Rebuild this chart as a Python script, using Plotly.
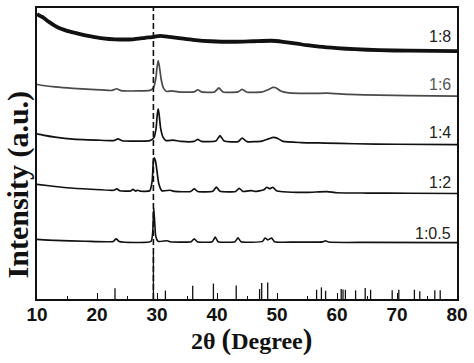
import plotly.graph_objects as go

# ---------------- data (2theta in degrees, intensity in stacked a.u.) ----------------
r18_x = [10, 10.5, 11, 12, 13, 14, 15, 17, 19, 21, 23, 26, 28, 29.5, 30.5, 32, 34, 36, 39, 43,
         46, 49, 51, 53, 55, 57, 60, 63, 67, 72, 80]
r18_y = [287, 285, 283.5, 279, 275, 272, 270, 267, 264.5, 262.5, 261.5, 261.5, 263, 264, 265,
         264, 262.5, 261, 259.5, 259, 259.5, 260, 259, 257.5, 255.5, 254, 252.5, 251.5, 250.5,
         250, 249.5]

r16_x = [10, 11, 13, 16, 19, 22.5, 23.3, 24, 27, 28.8, 29.4, 29.8, 30.0, 30.2, 30.4, 30.7, 31.1,
         31.6, 32.5, 33.5, 36.2, 36.8, 37.4, 39.6, 40.3, 41, 43.5, 44.2, 45, 47.5, 48.6, 49.3,
         49.8, 50.6, 52, 56, 58.3, 62, 67, 72, 80]
r16_y = [216, 215, 213.5, 212, 211, 210, 211.7, 209.8, 209.5, 210, 212.5, 222, 233, 240, 234,
         221, 212, 209, 209.5, 208.5, 208.5, 210.7, 208.5, 208.5, 212.5, 208.5, 208.5, 211,
         208.2, 208.5, 211, 213, 212.7, 209.5, 207.5, 207, 207.2, 206, 205.2, 204.7, 204.3]

r14_x = [10, 11, 13, 16, 20, 22.8, 23.5, 24.2, 27, 28.8, 29.5, 29.85, 30.05, 30.2, 30.35, 30.6,
         31, 31.5, 32.7, 34, 36.2, 36.8, 37.4, 39.8, 40.5, 41.2, 43.5, 44.2, 45, 47.5, 48.7,
         49.4, 50, 51, 54, 58, 63, 70, 80]
r14_y = [166.3, 165, 163, 161, 160, 159.5, 161.3, 159.3, 159, 159.5, 162.5, 172, 186, 191.5,
         186, 172, 163, 159.5, 160, 158.7, 158.7, 160.7, 158.7, 159, 164.5, 159, 158.5, 162,
         158.5, 159, 161.5, 162.7, 162, 158.7, 157.5, 157, 156.3, 155.8, 155.5]

r12_x = [10, 12, 15, 19, 22.8, 23.3, 23.8, 25.6, 26.0, 26.4, 26.8, 27.3, 28.8, 29.2, 29.4,
         29.55, 29.75, 29.95, 30.3, 30.8, 32.2, 33, 35.6, 36.2, 36.8, 39.3, 39.9, 40.5, 43.1,
         43.7, 44.3, 45.8, 46.3, 47.8, 48.3, 48.8, 49.3, 49.9, 51, 55, 58.3, 60, 65, 72, 80]
r12_y = [115.5, 114, 112, 110.5, 109.5, 111, 109, 108.7, 110.5, 108.7, 109.5, 108.5, 109, 119,
         139, 142, 139, 131, 116, 109, 109.5, 108.3, 108.3, 111, 108.3, 108.5, 112.7, 108.5,
         108.3, 111.5, 108.3, 109.2, 108.3, 110, 112.5, 111, 112.5, 109, 108, 107.3, 108.2,
         107, 106.7, 106.5, 106.2]

r105_x = [10, 13, 18, 22.7, 23.2, 23.7, 29.0, 29.3, 29.45, 29.6, 29.8, 30.2, 31.7, 32.2, 35.7,
          36.2, 36.7, 39.2, 39.7, 40.2, 43, 43.5, 44, 47.6, 48.0, 48.5, 49.1, 49.6, 53, 57.6,
          58.1, 58.6, 65, 80]
r105_y = [60, 59, 58.2, 58, 60.7, 58, 58, 69, 92, 79, 63, 58, 58.7, 57.7, 57.7, 60.7, 57.7,
          57.7, 62.3, 57.7, 57.7, 61.7, 57.7, 58, 61.5, 59.5, 61.5, 57.7, 57.3, 57.5, 58.7,
          57.3, 57, 56.8]

# reference (standard) pattern: peak positions and stick heights
ref_pos = [23.0, 29.4, 31.4, 35.95, 39.4, 43.2, 47.1, 47.45, 48.45, 56.6, 57.4, 58.1, 60.7,
           61.0, 61.4, 63.1, 64.7, 65.6, 69.2, 70.3, 72.9, 73.8, 76.3, 77.2]
ref_h = [10.7, 45.7, 8.5, 13.3, 15.5, 13.5, 10, 16, 16.5, 9.3, 11.7, 8.3, 10, 9.5, 9.3, 8.7,
         11, 9.3, 8.7, 9.3, 9.3, 7.7, 8.7, 8.7]
main_peak = 29.4

labels = ["1:8", "1:6", "1:4", "1:2", "1:0.5"]
label_y = [264, 215.7, 167.3, 117.3, 66]
x_ticks = [10, 20, 30, 40, 50, 60, 70, 80]

# ---------------- figure ----------------
fig = go.Figure()

series = [(r18_x, r18_y, "#111111", 3.8),
          (r16_x, r16_y, "#4a4a4a", 1.7),
          (r14_x, r14_y, "#111111", 1.7),
          (r12_x, r12_y, "#111111", 1.7),
          (r105_x, r105_y, "#111111", 1.6)]
for (xs, ys, col, w), name in zip(series, labels):
    fig.add_trace(go.Scatter(x=xs, y=ys, mode="lines", name=name,
                             line=dict(color=col, width=w, shape="spline", smoothing=0.5),
                             hoverinfo="skip", showlegend=False))

sx, sy = [], []
for p, h in zip(ref_pos, ref_h):
    sx += [p, p, None]
    sy += [0, h, None]
fig.add_trace(go.Scatter(x=sx, y=sy, mode="lines", line=dict(color="#111111", width=1.3),
                         hoverinfo="skip", showlegend=False))

fig.add_shape(type="line", xref="x", yref="paper", x0=main_peak, x1=main_peak, y0=0, y1=1,
              line=dict(color="#111111", width=1.6, dash="6px,3px"))

for t, yv, col in zip(labels, label_y, ["#222222", "#555555", "#222222", "#222222", "#222222"]):
    fig.add_annotation(x=79.33, y=yv, xref="x", yref="y", text=t, showarrow=False,
                       xanchor="right", yanchor="middle",
                       font=dict(family="Liberation Sans, Arial", size=16, color=col))

fig.add_annotation(xref="paper", yref="paper", x=-0.045, y=0.394, text="Intensity (a.u.)",
                   textangle=-90, showarrow=False, xanchor="center", yanchor="middle",
                   font=dict(family="Liberation Serif, Times New Roman", size=30,
                             color="#111111", weight="bold"))
fig.add_annotation(xref="paper", yref="paper", x=0.51, y=-0.14,
                   text='2θ <span style="font-size:29px">(</span>Degree<span style="font-size:29px">)</span>',
                   showarrow=False, xanchor="center", yanchor="middle",
                   font=dict(family="Liberation Serif, Times New Roman", size=24,
                             color="#111111", weight="bold"))

fig.update_layout(
    width=474, height=363,
    margin=dict(l=37, r=17, t=6, b=64),
    paper_bgcolor="white", plot_bgcolor="white",
    xaxis=dict(range=[10, 80], tickvals=x_ticks, ticktext=[str(v) for v in x_ticks],
               ticks="inside", ticklen=6, tickwidth=1.3, tickcolor="#111111",
               ticklabelstandoff=-3,
               minor=dict(dtick=5, ticks="inside", ticklen=3, tickwidth=1.2, tickcolor="#111111"),
               showline=True, linecolor="#111111", linewidth=1.5, mirror=True,
               showgrid=False, zeroline=False,
               tickfont=dict(family="Liberation Sans, Arial", size=19, color="#111111",
                             weight="bold")),
    yaxis=dict(range=[0, 293], showticklabels=False, ticks="",
               showline=True, linecolor="#111111", linewidth=1.5, mirror=True,
               showgrid=False, zeroline=False),
)

fig.write_html("out.html", config={"displayModeBar": False},
               post_script="document.body.style.margin='0';document.body.style.padding='0';")
